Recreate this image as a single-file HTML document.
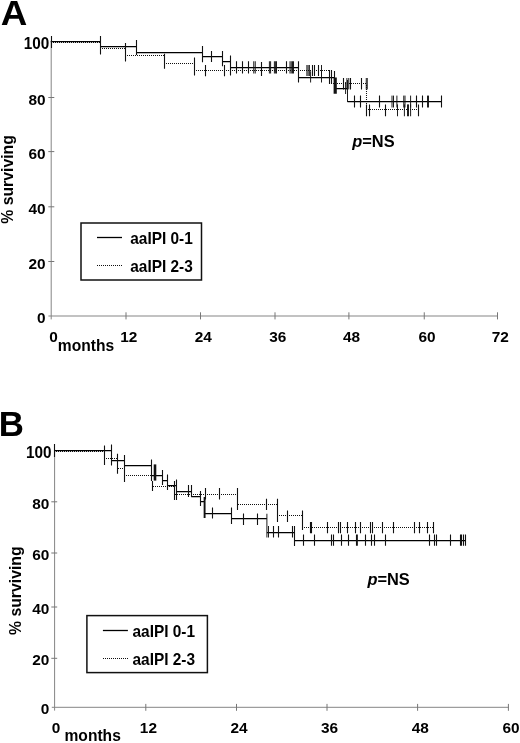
<!DOCTYPE html>
<html lang="en">
<head>
<meta charset="utf-8">
<title>Survival curves</title>
<style>
html,body{margin:0;padding:0;background:#fff;}
body{width:520px;height:743px;overflow:hidden;}
svg{display:block;filter:blur(0.3px);}
.t{font-family:"Liberation Sans", sans-serif;font-weight:bold;font-size:15.4px;fill:#000;}
</style>
</head>
<body>
<svg width="520" height="743" viewBox="0 0 520 743">
<rect width="520" height="743" fill="#fff"/>
<g stroke="#858585" stroke-width="1" fill="none">
<path d="M51.2 40.5V319.4M48.4 316H497.8"/>
<path d="M54.6 449.5V710.6M51.8 707.3H508.8"/>
</g>
<g stroke="#777" stroke-width="1" fill="none">
<path d="M48.3 97.5H54.3M48.3 151.6H54.3M48.3 206.8H54.3M48.3 261.5H54.3M126 312.3V319.4M200.5 312.3V319.4M275 312.3V319.4M348.9 312.3V319.4M424.25 312.3V319.4M497.5 312.3V319.4M51.3 501.8H57.2M51.3 553H57.2M51.3 607H57.2M51.3 658.3H57.2M145.8 703.9V710.8M236.5 703.9V710.8M327 703.9V710.8M417.6 703.9V710.8M508.4 703.9V710.8"/>
</g>
<g fill="none" stroke="#111">
<path d="M51 42.5H100M100 48.5H125M125 55.5H164.5M164 63.5H194M194 70.5H329.4M329 83.5H366.25M366 109.5H419.4M366.5 85V109" stroke-width="1.05" stroke-dasharray="1 1"/>
<path d="M54 451.5H104M104 458.5H117.75M118 468.5H124.4M124 475.5H153M153 486.5H175M175 494.5H237.5M238 504.5H277.25M277 515.5H302.5M302 527.5H433.75" stroke-width="1.05" stroke-dasharray="1 1"/>
<path d="M50.75 41.5H100M100 46.5H136.75M136.75 52.5H202M202 56.5H222.25M222.25 61.5H230M230 67.5H298.75M298.75 77.5H335M335 88.5H347.5M347.5 101.5H441.5" stroke-width="1.25" stroke="#000"/>
<path d="M54.5 450.5H111.9M111.9 460.5H124.4M124.4 465.5H151.9M151.9 475.5H162.75M162.75 480.5H167.75M167.75 485.5H176.5M176.5 491.5H191.25M191.25 496.5H200M200 501.5H204.5M204.5 513.5H231M231 518.5H266.9M266.9 532.5H294.75M294.75 540.5H465.6" stroke-width="1.25" stroke="#000"/>
<path d="M51.5 36V48M100.5 36V54.5M136.5 40V55M202.5 46V62.25M211.5 51V62M222.5 51V66.25M230.5 55.6V75.6M236.5 61.25V73.5M242.5 61.25V73.5M248.5 61.25V73.5M286.5 61.25V73.5M261.5 62V76M298.5 61.25V82.5M354.5 95.6V107.5M360.5 95.6V107.5M379.5 95.6V107.5M416.5 95.6V107.5M422.5 95.6V107.5M441.5 95.6V107.5M125.5 43V61.5M164.5 53.75V68.75M194.5 57.5V75.6M205.5 65V76.25M224.5 65V76.25M312.5 65V76M314.5 65V76M318.5 65V76M329.5 70V83.75M331.5 70V84M334.5 71V80M343.5 78V89.4M350.5 78V89.4M361.5 78V89.4M366.5 104.4V116.25M369.5 104.4V116.25M385.5 104.4V116.25M418.5 104.4V116.25" stroke-width="1.1"/>
<path d="M253.75 61.25V73.5M255.25 61.25V73.5M269.4 61.25V73.5M270.6 61.25V73.5M274.4 61.25V73.5M275.6 61.25V73.5M276.5 61.25V73.5M290 61.25V73.5M291.25 61.25V73.5M292.5 61.25V73.5M293.5 61.25V73.5M310.6 71.25V82.5M321.5 71.25V82.5M345.6 82V94M347.5 80V102M392 95.6V107.5M393.5 95.6V107.5M396.9 95.6V107.5M403.75 95.6V107.5M405 95.6V107.5M410.6 95.6V107.5M427.5 95.6V107.5M428.5 95.6V107.5M306.9 65V76M308.1 65V76M309.4 65V76M321.5 65V76M346.9 78V89.4M348.75 78V89.4M366.25 78V89.4M367.25 78V89.4M397.5 104.4V116.25M404.4 104.4V116.25M407.5 104.4V116.25M408.5 104.4V116.25M410.6 104.4V116.25" stroke-width="0.95"/>
<path d="M54.5 444V457M111.5 444.4V465.6M124.5 455V482M151.5 459.4V481M162.5 470V485M167.5 474.4V490M176.5 479.4V500M188.5 485V497M191.5 485V497M200.5 491V506M212.5 507.5V518.5M231.5 507.5V524M243.5 513.5V525M257.5 513.5V525M294.5 526V546M273.5 526V537.5M278.5 526V537.5M292.5 526V537.5M303.5 534.4V545.8M314.5 534.4V545.8M331.5 534.4V545.8M333.5 534.4V545.8M341.5 534.4V545.8M348.5 534.4V545.8M365.5 534.4V545.8M371.5 534.4V545.8M374.5 534.4V545.8M385.5 534.4V545.8M429.5 534.4V545.8M434.5 534.4V545.8M436.5 534.4V545.8M450.5 534.4V545.8M460.5 534.4V545.8M461.5 534.4V545.8M463.5 534.4V545.8M465.5 534.4V545.8M104.5 445.6V465M117.5 453.75V473.75M152.5 481V491M174.5 481V500M205.5 488V499.4M219.5 488V499.4M237.5 488V510M266.5 498.75V510M277.5 498.75V522M287.5 510.6V522M302.5 510.6V530M310.5 522V533.3M311.5 522V533.3M327.5 522V533.3M338.5 522V533.3M340.5 522V533.3M347.5 522V533.3M355.5 522V533.3M360.5 522V533.3M370.5 522V533.3M372.5 522V533.3M382.5 522V533.3M393.5 522V533.3M414.5 522V533.3M419.5 522V533.3M427.5 522V533.3M433.5 522V533.3" stroke-width="1.1"/>
<path d="M266.9 513.75V537.5M268.5 526V537.5" stroke-width="0.95"/>
<path d="M335.2 77.5V93.75" stroke-width="3.2"/>
<path d="M155 464.4V480.6" stroke-width="2.6"/>
<path d="M204.6 497V518M356.9 534.4V545.8" stroke-width="1.9"/>
</g>
<rect x="81" y="223" width="120.5" height="57" fill="#fff" stroke="#111" stroke-width="1.5"/>
<path d="M97 237.5h25" stroke="#000" stroke-width="1.3" fill="none"/>
<path d="M97 265.5h25" stroke="#111" stroke-width="1.05" fill="none" stroke-dasharray="1 1"/>
<text transform="translate(130.3 243.9) scale(0.94 1)" class="t" style="font-size:16.4px">aaIPI 0-1</text>
<text transform="translate(130.3 272) scale(0.94 1)" class="t" style="font-size:16.4px">aaIPI 2-3</text>
<rect x="86.9" y="615.6" width="120.5" height="57" fill="#fff" stroke="#111" stroke-width="1.5"/>
<path d="M102.9 630.5h25" stroke="#000" stroke-width="1.3" fill="none"/>
<path d="M103 658.5h25" stroke="#111" stroke-width="1.05" fill="none" stroke-dasharray="1 1"/>
<text transform="translate(132.5 636.5) scale(0.94 1)" class="t" style="font-size:16.4px">aaIPI 0-1</text>
<text transform="translate(132.5 664.6) scale(0.94 1)" class="t" style="font-size:16.4px">aaIPI 2-3</text>
<g class="t">
<text transform="translate(0.8 25.3) scale(1.07 1)" font-size="34.4">A</text>
<text transform="translate(-1.2 436.2) scale(1.02 1)" font-size="34.2">B</text>
<text transform="translate(49.2 48.7) scale(0.89 1)" font-size="17.2" text-anchor="end">100</text>
<text x="45.6" y="104.9" text-anchor="end">80</text>
<text x="45.6" y="159" text-anchor="end">60</text>
<text x="45.6" y="214.2" text-anchor="end">40</text>
<text x="45.6" y="268.9" text-anchor="end">20</text>
<text x="45.6" y="323.2" text-anchor="end">0</text>
<text transform="translate(51.4 457.7) scale(0.89 1)" font-size="17.2" text-anchor="end">100</text>
<text x="49.4" y="509.2" text-anchor="end">80</text>
<text x="49.4" y="560.4" text-anchor="end">60</text>
<text x="49.4" y="614.4" text-anchor="end">40</text>
<text x="49.4" y="665.4" text-anchor="end">20</text>
<text x="49.4" y="714.3" text-anchor="end">0</text>
<text x="53.45" y="342.3" text-anchor="middle">0</text>
<text x="128.7" y="342.3" text-anchor="middle">12</text>
<text x="203.2" y="342.3" text-anchor="middle">24</text>
<text x="277.7" y="342.3" text-anchor="middle">36</text>
<text x="351.6" y="342.3" text-anchor="middle">48</text>
<text x="426.95" y="342.3" text-anchor="middle">60</text>
<text x="500.2" y="342.3" text-anchor="middle">72</text>
<text x="56.1" y="732.5" text-anchor="middle">0</text>
<text x="148.4" y="732.5" text-anchor="middle">12</text>
<text x="239.1" y="732.5" text-anchor="middle">24</text>
<text x="329.6" y="732.5" text-anchor="middle">36</text>
<text x="420.2" y="732.5" text-anchor="middle">48</text>
<text x="511" y="732.5" text-anchor="middle">60</text>
<text x="57.8" y="351.3" font-size="15.6">months</text>
<text x="64.5" y="741.3" font-size="15.6">months</text>
<text transform="translate(352.2 146.6) scale(1.045 1)" font-size="15.7"><tspan font-style="italic">p</tspan>=NS</text>
<text transform="translate(367.4 585.2) scale(1.045 1)" font-size="15.7"><tspan font-style="italic">p</tspan>=NS</text>
<text transform="translate(13 223.8) rotate(-90)" font-size="15.8">% surviving</text>
<text transform="translate(20.6 635) rotate(-90)" font-size="15.8">% surviving</text>
</g>
</svg>
</body>
</html>
